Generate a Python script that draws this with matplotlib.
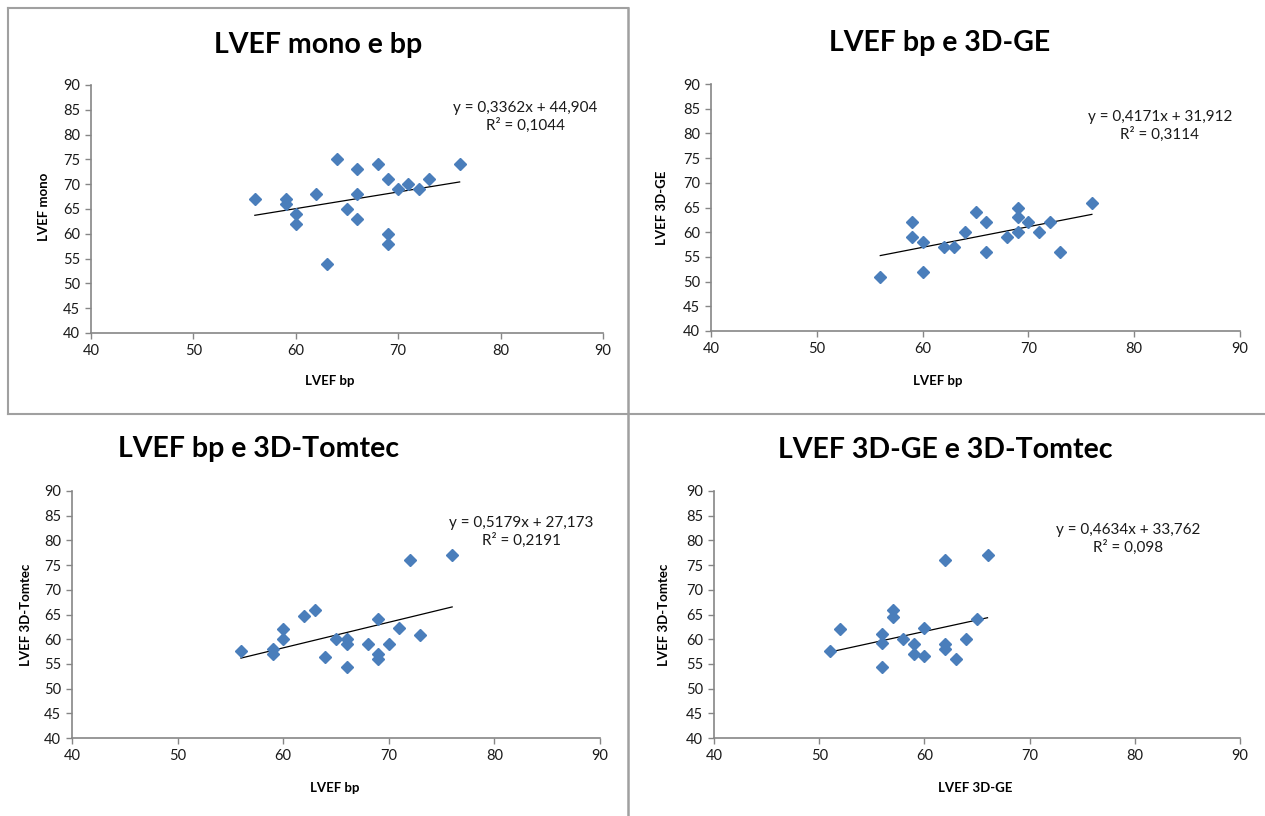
import matplotlib
matplotlib.use('Agg')
import matplotlib.pyplot as plt
from matplotlib.lines import Line2D

plt.rcParams['font.family'] = ['Lato', 'DejaVu Sans']

W, H = 1265, 816

# LVEF mono vs bp
bp_x = [56, 59, 59, 60, 60, 62, 63, 64, 65, 66, 66, 66, 68, 69, 69, 69, 70, 71, 72, 73, 76]
mono_y = [67, 67, 66, 64, 62, 68, 54, 75, 65, 73, 68, 63, 74, 71, 60, 58, 69, 70, 69, 71, 74]

# LVEF bp vs 3D-GE
bp2_x = [56, 59, 59, 60, 60, 62, 63, 64, 65, 66, 66, 68, 69, 69, 69, 70, 71, 72, 73, 76]
ge_y = [51, 62, 59, 58, 52, 57, 57, 60, 64, 62, 56, 59, 65, 63, 60, 62, 60, 62, 56, 66]

# LVEF bp vs 3D-Tomtec
tomtec_y = [57.6, 58, 57, 62, 60, 64.7, 66, 56.4, 60, 60, 59, 54.4, 59, 64, 57, 56,
            59, 62.2, 76, 60.9, 77]

# LVEF 3D-GE vs 3D-Tomtec
ge_x = [51, 52, 56, 56, 56, 57, 57, 58, 59, 59, 60, 60, 62, 62, 62, 63, 64, 65, 66]
tomtec4_y = [57.6, 62, 61, 59.2, 54.4, 66, 64.5, 60, 59, 57, 62.2, 56.6, 76, 59, 58,
             56, 60, 64, 77]

titles = ['LVEF mono e bp', 'LVEF bp e 3D-GE', 'LVEF bp e 3D-Tomtec', 'LVEF 3D-GE e 3D-Tomtec']
xlabels = ['LVEF bp', 'LVEF bp', 'LVEF bp', 'LVEF 3D-GE']
ylabels = ['LVEF mono', 'LVEF 3D-GE', 'LVEF 3D-Tomtec', 'LVEF 3D-Tomtec']
slopes = [0.3362, 0.4171, 0.5179, 0.4634]
intercepts = [44.904, 31.912, 27.173, 33.762]
eq_texts = ['y = 0,3362x + 44,904\nR² = 0,1044',
            'y = 0,4171x + 31,912\nR² = 0,3114',
            'y = 0,5179x + 27,173\nR² = 0,2191',
            'y = 0,4634x + 33,762\nR² = 0,098']

series = [(bp_x, mono_y), (bp2_x, ge_y), (bp_x, tomtec_y), (ge_x, tomtec4_y)]

# layout in pixels: axes (left, top, right, bottom), title, xlabel, ylabel, equation
boxes = [(91, 85, 603, 333), (711, 84, 1240, 331), (72, 491, 600, 738), (714, 491, 1240, 738)]
title_pos = [(318, 45), (940, 43), (258, 449), (945, 450)]
xlab_pos = [(330, 381), (938, 381), (335, 788), (975, 788)]
ylab_pos = [(44, 207), (662, 208), (26, 615), (664, 615)]
eq_pos = [(525, 117), (1160, 126), (521, 532), (1128, 539)]

axis_col = '#868686'
blue = '#4a7ebb'

fig = plt.figure(figsize=(W / 100, H / 100), dpi=100)

def fx(px):
    return px / W

def fy(py):
    return 1 - py / H

for i in range(4):
    l, t, r, b = boxes[i]
    ax = fig.add_axes([fx(l), fy(b), fx(r - l), (b - t) / H])
    x, y = series[i]
    ax.plot(x, y, linestyle='none', marker='D', ms=6, color=blue, mec=blue, zorder=3)
    x0, x1 = min(x), max(x)
    ax.plot([x0, x1], [slopes[i] * x0 + intercepts[i], slopes[i] * x1 + intercepts[i]],
            color='black', lw=0.9, zorder=2)
    ax.set_xlim(40, 90)
    ax.set_ylim(40, 90)
    ax.set_xticks(range(40, 91, 10))
    ax.set_yticks(range(40, 91, 5))
    for s in ['top', 'right']:
        ax.spines[s].set_visible(False)
    for s in ['left', 'bottom']:
        ax.spines[s].set_color(axis_col)
        ax.spines[s].set_linewidth(1.2)
    ax.tick_params(direction='out', length=4, width=1, color=axis_col,
                   labelsize=10.5, labelcolor='#1a1a1a', pad=4)
    ax.patch.set_alpha(0)
    fig.text(fx(title_pos[i][0]), fy(title_pos[i][1]), titles[i], ha='center', va='center',
             fontsize=20.5, fontweight='bold')
    fig.text(fx(xlab_pos[i][0]), fy(xlab_pos[i][1]), xlabels[i], ha='center', va='center',
             fontsize=9.5, fontweight='bold')
    fig.text(fx(ylab_pos[i][0]), fy(ylab_pos[i][1]), ylabels[i], ha='center', va='center',
             fontsize=9.5, fontweight='bold', rotation=90)
    fig.text(fx(eq_pos[i][0]), fy(eq_pos[i][1]), eq_texts[i], ha='center', va='center',
             fontsize=11, linespacing=1.3, multialignment='center', color='#1a1a1a')

# panel borders
line_col = '#a0a0a0'
fig.add_artist(Line2D([fx(8), fx(628)], [fy(8), fy(8)], transform=fig.transFigure, color=line_col, lw=1.5))
fig.add_artist(Line2D([fx(8), fx(8)], [fy(8), fy(414)], transform=fig.transFigure, color=line_col, lw=1.5))
fig.add_artist(Line2D([fx(8), fx(1265)], [fy(414), fy(414)], transform=fig.transFigure, color=line_col, lw=1.5))
fig.add_artist(Line2D([fx(628), fx(628)], [fy(8), fy(816)], transform=fig.transFigure, color=line_col, lw=1.8))

fig.savefig('out.png', dpi=100)
